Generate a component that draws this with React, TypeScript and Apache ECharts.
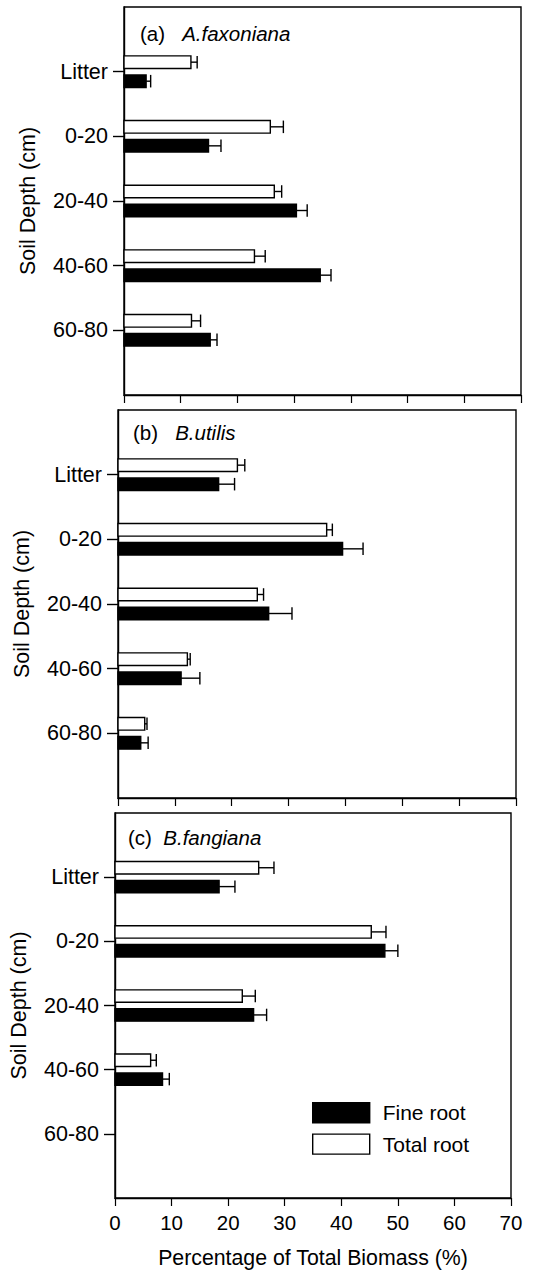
import React, { useEffect, useRef } from "react";
import * as echarts from "echarts";

const categories = ["", "Litter", "0-20", "20-40", "40-60", "60-80", ""];
const xTicks = [0, 10, 20, 30, 40, 50, 60, 70];

// Panel (a) A.faxoniana
const aFine = [3.9, 14.9, 30.4, 34.6, 15.2];
const aFineErr = [0.8, 2.2, 1.9, 1.9, 1.2];
const aTotal = [11.8, 25.8, 26.5, 23.0, 11.9];
const aTotalErr = [1.1, 2.3, 1.3, 1.9, 1.6];
// Panel (b) B.utilis
const bFine = [17.7, 39.5, 26.5, 11.1, 4.0];
const bFineErr = [2.8, 3.6, 4.1, 3.3, 1.3];
const bTotal = [21.0, 36.7, 24.5, 12.2, 4.7];
const bTotalErr = [1.3, 1.0, 1.1, 0.5, 0.4];
// Panel (c) B.fangiana
const cFine = [18.4, 47.7, 24.5, 8.4, null];
const cFineErr = [2.8, 2.3, 2.3, 1.2, null];
const cTotal = [25.4, 45.3, 22.5, 6.3, null];
const cTotalErr = [2.7, 2.6, 2.3, 1.0, null];

const FONT = "'Liberation Sans', Arial, Helvetica, sans-serif";

function buildData(vals: (number | null)[], errs: (number | null)[]) {
  const out: number[][] = [];
  vals.forEach((v, i) => {
    if (v !== null && v !== undefined) out.push([v, i + 1, (errs[i] as number) || 0]);
  });
  return out;
}

function makeRender(sign: number, fill: string) {
  return (params: any, api: any) => {
    const v = api.value(0);
    const idx = api.value(1);
    const err = api.value(2);
    const base = api.coord([0, idx]);
    const end = api.coord([v, idx]);
    const cap = api.coord([v + err, idx]);
    const band = api.size([0, 1])[1];
    const h = band * 0.194;
    const cy = base[1] + sign * band * 0.147;
    const st = { stroke: "#000", lineWidth: 1.4 };
    return {
      type: "group",
      children: [
        { type: "line", shape: { x1: end[0], y1: cy, x2: cap[0], y2: cy }, style: st },
        { type: "line", shape: { x1: cap[0], y1: cy - h / 2, x2: cap[0], y2: cy + h / 2 }, style: st },
        {
          type: "rect",
          shape: { x: base[0], y: cy - h / 2, width: end[0] - base[0], height: h },
          style: { fill, stroke: "#000", lineWidth: 1.4 },
        },
      ],
    };
  };
}

const panels = [
  { left: 124, top: 7, width: 397, height: 388, label: "(a)", species: "A.faxoniana", tx: 140, ty: 23, gap: "   ", fine: aFine, fineErr: aFineErr, total: aTotal, totalErr: aTotalErr },
  { left: 118, top: 410, width: 398, height: 388, label: "(b)", species: "B.utilis", tx: 133, ty: 422, gap: "   ", fine: bFine, fineErr: bFineErr, total: bTotal, totalErr: bTotalErr },
  { left: 114, top: 813, width: 397, height: 385, label: "(c)", species: "B.fangiana", tx: 128, ty: 827, gap: "  ", fine: cFine, fineErr: cFineErr, total: cTotal, totalErr: cTotalErr },
];

export default function App() {
  const ref = useRef<HTMLDivElement>(null);
  useEffect(() => {
    if (!ref.current) return;
    const chart = echarts.init(ref.current, undefined, { renderer: "svg" });
    const grid: any[] = [];
    const xAxis: any[] = [];
    const yAxis: any[] = [];
    const series: any[] = [];
    const title: any[] = [];
    panels.forEach((p, k) => {
      const last = k === panels.length - 1;
      grid.push({ left: p.left, top: p.top, width: p.width, height: p.height, show: true, borderColor: "#000", borderWidth: 1.4, backgroundColor: "transparent" });
      xAxis.push({
        type: "value",
        gridIndex: k,
        min: xTicks[0],
        max: xTicks[xTicks.length - 1],
        interval: 10,
        axisLine: { show: true, lineStyle: { color: "#000", width: 1.4 } },
        axisTick: { show: true, inside: false, length: 8, lineStyle: { color: "#000", width: 1.2 } },
        axisLabel: { show: last, fontSize: 20.5, color: "#000", fontFamily: FONT, margin: 14 },
        splitLine: { show: false },
        name: last ? "Percentage of Total Biomass (%)" : "",
        nameLocation: "middle",
        nameGap: 49,
        nameTextStyle: { fontSize: 21.3, color: "#000", fontFamily: FONT },
      });
      yAxis.push({
        type: "category",
        gridIndex: k,
        data: categories,
        inverse: true,
        boundaryGap: false,
        axisLine: { show: true, lineStyle: { color: "#000", width: 1.4 } },
        axisTick: { show: true, inside: false, length: 11, interval: (i: number) => i > 0 && i < categories.length - 1, lineStyle: { color: "#000", width: 1.4 } },
        axisLabel: { show: true, interval: 0, fontSize: 21.5, color: "#000", fontFamily: FONT, margin: 16 },
        splitLine: { show: false },
        name: "Soil Depth (cm)",
        nameLocation: "middle",
        nameRotate: 90,
        nameGap: 85,
        nameTextStyle: { fontSize: 21.5, color: "#000", fontFamily: FONT },
      });
      series.push({
        type: "custom",
        name: "Total root",
        xAxisIndex: k,
        yAxisIndex: k,
        encode: { x: 0, y: 1 },
        clip: false,
        itemStyle: { color: "#fff", borderColor: "#000", borderWidth: 1.4 },
        renderItem: makeRender(-1, "#fff"),
        data: buildData(p.total, p.totalErr),
      });
      series.push({
        type: "custom",
        name: "Fine root",
        xAxisIndex: k,
        yAxisIndex: k,
        encode: { x: 0, y: 1 },
        clip: false,
        itemStyle: { color: "#000" },
        renderItem: makeRender(1, "#000"),
        data: buildData(p.fine, p.fineErr),
      });
      title.push({
        text: `{a|${p.label}}${p.gap}{b|${p.species}}`,
        left: p.tx,
        top: p.ty,
        padding: 0,
        textStyle: {
          fontSize: 20.5,
          fontWeight: "normal",
          color: "#000",
          fontFamily: FONT,
          rich: {
            a: { fontSize: 20.5, color: "#000", fontFamily: FONT },
            b: { fontSize: 20.5, color: "#000", fontFamily: FONT, fontStyle: "italic" },
          },
        },
      });
    });
    chart.setOption({
      animation: false,
      backgroundColor: "#fff",
      title,
      grid,
      xAxis,
      yAxis,
      series,
      legend: {
        data: [
          { name: "Fine root", itemStyle: { color: "#000", borderColor: "#000", borderWidth: 1.4 } },
          { name: "Total root", itemStyle: { color: "#fff", borderColor: "#000", borderWidth: 1.4 } },
        ],
        orient: "vertical",
        left: 312,
        top: 1102,
        padding: 0,
        itemWidth: 57,
        itemHeight: 20,
        itemGap: 10,
        icon: "rect",
        selectedMode: false,
        textStyle: { fontSize: 21, color: "#000", fontFamily: FONT, padding: [0, 0, 0, 8] },
      },
    });
    return () => chart.dispose();
  }, []);
  return <div ref={ref} style={{ position: "absolute", left: 0, top: 0, width: 539, height: 1271 }} />;
}
